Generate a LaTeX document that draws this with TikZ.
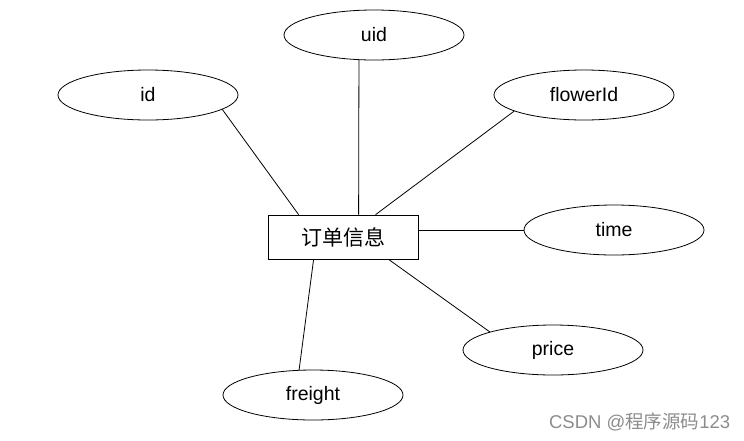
\documentclass[tikz,border=0pt]{standalone}
\usepackage{fontspec}
\setmainfont{Liberation Sans}
\newfontfamily\cjk{Noto Sans CJK SC}
\usetikzlibrary{calc,shapes.geometric}

\tikzset{
  attr/.style={draw,ellipse,minimum width=180pt,minimum height=50pt,inner sep=0pt,font=\fontsize{19.5}{22}\selectfont},
  entity/.style={draw,rectangle,minimum width=150pt,minimum height=44pt,inner sep=0pt,font=\cjk\fontsize{21}{24}\selectfont},
  link/.style={line width=0.8pt}
}

\begin{document}
\begin{tikzpicture}[x=1pt,y=-1pt,line width=0.8pt]
\useasboundingbox (0,0) rectangle (744,440);
% entity
\node[entity] (order) at (343,237) {订单信息};
% attributes
\node[attr] (uid) at (374,35) {uid};
\node[attr] (id) at (148,95) {id};
\node[attr] (flowerId) at (584,95) {flowerId};
\node[attr] (time) at (614,230) {time};
\node[attr] (price) at (553,350) {price};
\node[attr] (freight) at (313,395) {freight};
% links
\draw[link] (id.-11) -- ($(order.north west)+(31,0)$);
\draw[link] (uid.-121) -- ($(order.north west)+(91,0)$);
\draw[link] (flowerId.-167) -- ($(order.north west)+(108,0)$);
\draw[link] ($(order.east)+(0,-7)$) -- (time.west);
\draw[link] ($(order.south west)+(121,0)$) -- (price.164);
\draw[link] ($(order.south west)+(46,0)$) -- (freight.119);
% watermark
\node[text=black!45,font=\fontsize{18.5}{21}\selectfont,anchor=east] (mark) at (734,422) {CSDN @{\cjk 程序源码}123};
\end{tikzpicture}
\end{document}
